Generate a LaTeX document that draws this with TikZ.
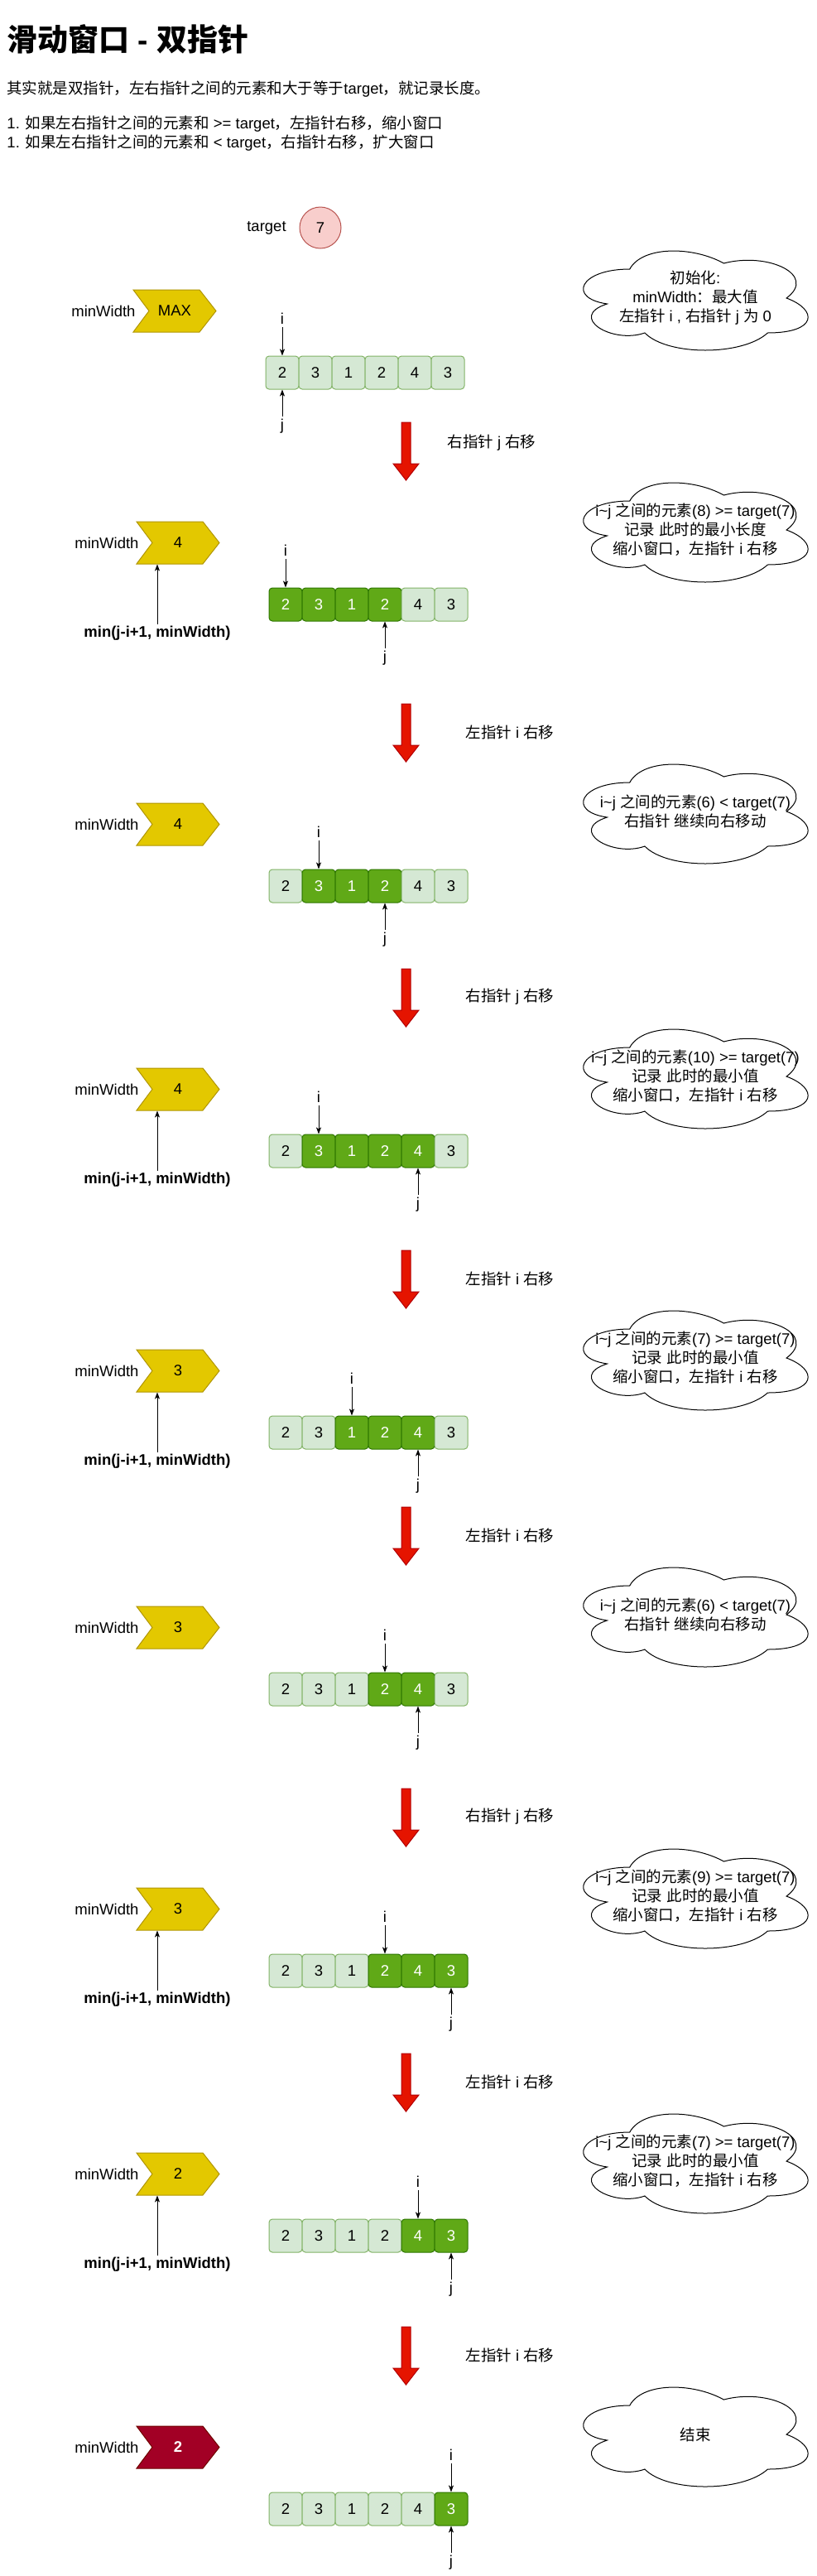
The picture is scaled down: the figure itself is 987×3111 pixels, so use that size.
\documentclass[tikz,border=0pt]{standalone}
\usepackage{fontspec}
\setmainfont{Liberation Sans}
\newfontfamily\zhfont{Noto Sans CJK SC}
\usetikzlibrary{arrows.meta}

% Chinese characters switch to the CJK font on their own
\XeTeXinterchartokenstate=1
\newXeTeXintercharclass\zhclass
\newcount\zhcode
\zhcode="4E00
\loop
  \XeTeXcharclass\zhcode=\zhclass
  \ifnum\zhcode<"9FFF \advance\zhcode by 1
\repeat
\XeTeXcharclass"3002=\zhclass
\XeTeXcharclass"FF0C=\zhclass
\XeTeXcharclass"FF1A=\zhclass
\XeTeXinterchartoks 0 \zhclass = {\zhfont}
\XeTeXinterchartoks 4095 \zhclass = {\zhfont}
\XeTeXinterchartoks \zhclass 0 = {\rmfamily}
\XeTeXinterchartoks \zhclass 4095 = {\rmfamily}

\definecolor{chevfill}{HTML}{E3C800}
\definecolor{chevline}{HTML}{B09500}
\definecolor{endfill}{HTML}{A20025}
\definecolor{endline}{HTML}{6F0000}
\definecolor{lightcell}{HTML}{D5E8D4}
\definecolor{lightline}{HTML}{82B366}
\definecolor{darkcell}{HTML}{60A917}
\definecolor{darkline}{HTML}{2D7600}
\definecolor{pinkfill}{HTML}{F8CECC}
\definecolor{pinkline}{HTML}{B85450}
\definecolor{movefill}{HTML}{E51400}
\definecolor{moveline}{HTML}{B20000}

\tikzset{>={Stealth[length=8pt,width=6pt,inset=2pt]}}
\tikzset{
  cell0/.style={draw=lightline, fill=lightcell, rounded corners=4pt, minimum width=40pt, minimum height=40pt, inner sep=0pt},
  cell1/.style={cell0, draw=darkline, fill=darkcell, text=white},
  chevY/.style={draw=chevline, fill=chevfill},
  chevR/.style={draw=endline, fill=endfill},
  valY/.style={minimum width=100pt, minimum height=51pt, inner sep=0pt},
  valR/.style={valY, text=white, font=\fontsize{18.5}{23}\selectfont\bfseries},
  ptr/.style={inner sep=3pt},
  cloudline/.style={draw=black, fill=white},
  cloudtext/.style={align=center, inner sep=0pt},
  mintext/.style={font=\fontsize{18.5}{23}\selectfont\bfseries, inner sep=2pt},
  movearrow/.style={draw=moveline, fill=movefill},
}

\begin{document}
\begin{tikzpicture}[x=1pt, y=-1pt, line width=1pt,
    every node/.style={font=\fontsize{18.5}{23}\selectfont}]
    \useasboundingbox (0,0) rectangle (987,3111);

    \node[anchor=west, inner sep=0pt, font=\fontsize{37}{44}\selectfont\bfseries] (title) at (8,47) {滑动窗口 - 双指针};
    \node[anchor=west, inner sep=0pt] (line1) at (8,108) {其实就是双指针，左右指针之间的元素和大于等于target，就记录长度。};
    \node[anchor=west, inner sep=0pt] (line2) at (8,150) {1. 如果左右指针之间的元素和 >= target，左指针右移，缩小窗口};
    \node[anchor=west, inner sep=0pt] (line3) at (8,173) {1. 如果左右指针之间的元素和 < target，右指针右移，扩大窗口};

    \node (tl) at (322,275) {target};
    \node[circle, draw=pinkline, fill=pinkfill, minimum size=50pt, inner sep=0pt] (tv) at (387,275) {7};

    \foreach \k/\ct/\dx/\val/\cs/\lp/\rp/\lo in {0/350/-4/MAX/Y/0/0/9, 1/630/0/4/Y/0/3/0, 2/970/0/4/Y/1/3/1,
        3/1290/0/4/Y/1/4/1, 4/1630/0/3/Y/2/4/2, 5/1940/0/3/Y/3/4/3, 6/2280/0/3/Y/3/5/3,
        7/2600/0/2/Y/4/5/4, 8/2930/0/2/R/5/5/5}{
        % minWidth
        \filldraw[chev\cs] (165+\dx,\ct) -- ++(80,0) -- ++(20,25.5) -- ++(-20,25.5) -- ++(-80,0) -- ++(19,-25.5) -- cycle;
        \node[val\cs] (w\k) at (215+\dx,\ct+25.5) {\val};
        \node[anchor=east, inner sep=0pt] (n\k) at (168+\dx,\ct+25.5) {minWidth};
        % array
        \foreach \n/\cv in {0/2,1/3,2/1,3/2,4/4,5/3}{
            \pgfmathtruncatemacro\act{(\n>=\lo) && (\n<=\rp)}
            \node[cell\act] (s\k-\n) at (345+\dx+40*\n,\ct+100) {\cv};
        }
        \path (s\k-\lp) ++(0,-65) node[ptr] (i\k) {i};
        \path (s\k-\rp) ++(0,65) node[ptr] (j\k) {j};
        \draw[->] (i\k) -- (s\k-\lp.north);
        \draw[->] (j\k) -- (s\k-\rp.south);
        % cloud
        \draw[cloudline, shift={(685,\ct-60)}, xscale=303, yscale=140]
            (0.25,0.25) .. controls (0.05,0.25) and (0,0.5) .. (0.16,0.55)
            .. controls (0,0.66) and (0.18,0.9) .. (0.31,0.8)
            .. controls (0.4,1) and (0.7,1) .. (0.8,0.8)
            .. controls (1,0.8) and (1,0.6) .. (0.875,0.5)
            .. controls (1,0.3) and (0.8,0.1) .. (0.625,0.2)
            .. controls (0.5,0.05) and (0.3,0.05) .. (0.25,0.25) -- cycle;
    }

    \foreach \k/\ct/\txt in {
        0/350/{初始化:\\minWidth：最大值\\左指针 i , 右指针 j 为 0},
        1/630/{i\textasciitilde j 之间的元素(8) >= target(7)\\记录 此时的最小长度\\缩小窗口，左指针 i 右移},
        2/970/{i\textasciitilde j 之间的元素(6) < target(7)\\右指针 继续向右移动},
        3/1290/{i\textasciitilde j 之间的元素(10) >= target(7)\\记录 此时的最小值\\缩小窗口，左指针 i 右移},
        4/1630/{i\textasciitilde j 之间的元素(7) >= target(7)\\记录 此时的最小值\\缩小窗口，左指针 i 右移},
        5/1940/{i\textasciitilde j 之间的元素(6) < target(7)\\右指针 继续向右移动},
        6/2280/{i\textasciitilde j 之间的元素(9) >= target(7)\\记录 此时的最小值\\缩小窗口，左指针 i 右移},
        7/2600/{i\textasciitilde j 之间的元素(7) >= target(7)\\记录 此时的最小值\\缩小窗口，左指针 i 右移},
        8/2930/{结束}}{
        \node[cloudtext] (c\k) at (840,\ct+10) {\txt};
    }

    \foreach \k/\ya/\lx/\ly/\txt in {1/510/540/25/右指针 j 右移, 2/850/562/34/左指针 i 右移,
        3/1170/562/34/右指针 j 右移, 4/1510/562/34/左指针 i 右移, 5/1820/562/34/左指针 i 右移,
        6/2160/562/34/右指针 j 右移, 7/2480/562/34/左指针 i 右移, 8/2810/562/34/左指针 i 右移}{
        \filldraw[movearrow] (485,\ya) -- (496,\ya) -- (496,\ya+50) -- (506,\ya+50) -- (490.5,\ya+70)
            -- (475,\ya+50) -- (485,\ya+50) -- cycle;
        \node[anchor=west, inner sep=0pt] (a\k) at (\lx,\ya+\ly) {\txt};
    }

    \foreach \k/\ct in {1/630, 3/1290, 4/1630, 6/2280, 7/2600}{
        \node[mintext] (m\k) at (190,\ct+135) {min(j-i+1, minWidth)};
        \draw[->] (m\k) -- (m\k |- w\k.south);
    }
\end{tikzpicture}
\end{document}
